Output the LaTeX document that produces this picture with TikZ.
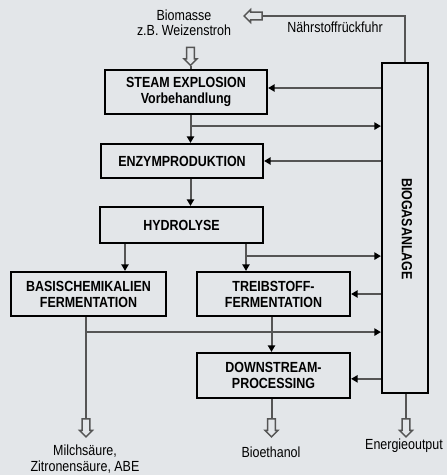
\documentclass[tikz,border=0pt]{standalone}
\usepackage{fontspec}
\setmainfont{Liberation Sans}[FakeStretch=0.85]
\usetikzlibrary{arrows.meta,shapes.arrows,calc}
\definecolor{bg}{HTML}{E3E6E9}
\definecolor{ln}{HTML}{555555}

\begin{document}
\begin{tikzpicture}[x=0.75pt,y=-0.75pt,
    box/.style={draw,line width=1.6pt,align=center,inner sep=1pt,font=\fontsize{11}{12}\selectfont\bfseries},
    lbl/.style={align=center,inner sep=0pt,font=\fontsize{11}{11.5}\selectfont},
    flow/.style={draw=ln,line width=1.5pt},
    arr/.style={flow,-{Triangle[length=5pt,width=5.5pt,color=black]}},
    hollow/.style={single arrow,draw=ln,fill=bg,line width=1.1pt,inner sep=2.3pt,
        minimum height=13.5pt,minimum width=9.5pt,single arrow head extend=2pt}]
            \fill[bg] (0,0) rectangle (447,475);
            \node[box,minimum width=121.5pt,minimum height=33pt] (steam) at (186,92) {STEAM EXPLOSION\\Vorbehandlung};
            \node[box,minimum width=121.5pt,minimum height=25.5pt] (enzym) at (182,161) {ENZYMPRODUKTION};
            \node[box,minimum width=122.25pt,minimum height=27pt] (hydro) at (181.5,225) {HYDROLYSE};
            \node[box,minimum width=116.25pt,minimum height=33pt] (basis) at (88.5,294) {BASISCHEMIKALIEN\\FERMENTATION};
            \node[box,minimum width=114.75pt,minimum height=33pt] (treib) at (273.5,294) {TREIBSTOFF-\\FERMENTATION};
            \node[box,minimum width=114.75pt,minimum height=33.75pt] (down) at (273.5,375.5) {DOWNSTREAM-\\PROCESSING};
            \node[box,minimum width=34.5pt,minimum height=247.5pt] (biogas) at (405,228) {};
            \node[rotate=-90,font=\fontsize{11}{12}\selectfont\bfseries] (biogaslbl) at (407,229) {BIOGASANLAGE};
            \node[lbl] (bio) at (184,23) {Biomasse\\z.B. Weizenstroh};
            \node[lbl] (nfr) at (335,27) {Nährstoffrückfuhr};
            \node[hollow,rotate=-90] (inbio) at (190.5,54.5) {};
            \node[hollow,rotate=180] (back) at (255,16) {};
            \node[hollow,rotate=-90] (outmilch) at (86,426) {};
            \node[hollow,rotate=-90] (outeth) at (271.5,426) {};
            \node[hollow,rotate=-90] (outenergy) at (406,426) {};
            \node[lbl] (milch) at (85,459) {Milchsäure,\\Zitronensäure, ABE};
            \node[lbl] (eth) at (271,452) {Bioethanol};
            \node[lbl] (energy) at (404,446) {Energieoutput};
            \coordinate (b1) at ($(steam.south -| inbio)+(0,11)$);
            \coordinate (hb) at ($(hydro.south)+(-56.5,0)$);
            \coordinate (ht) at ($(hydro.south)+(64.5,0)$);
            \coordinate (b2) at ($(ht)+(0,12)$);
            \coordinate (b3) at ($(basis.south -| outmilch)+(0,15)$);
            \coordinate (s1) at ([yshift=3pt]steam.east);
            \coordinate (d1) at ([yshift=-2.5pt]down.east);
            \draw[flow] (inbio.tip) -- (inbio.tip |- steam.north);
            \draw[flow] (biogas.north) |- (back.tail);
            \draw[arr] (s1 -| biogas.west) -- (s1);
            \draw[arr] (steam.south -| inbio) -- (enzym.north -| inbio);
            \draw[arr] (b1) -- (b1 -| biogas.west);
            \draw[arr] (biogas.west |- enzym.east) -- (enzym.east);
            \draw[arr] (enzym.south -| inbio) -- (hydro.north -| inbio);
            \draw[arr] (hb) -- (hb |- basis.north);
            \draw[arr] (ht) -- (ht |- treib.north);
            \draw[arr] (b2) -- (b2 -| biogas.west);
            \draw[arr] (biogas.west |- treib.east) -- (treib.east);
            \draw[flow] (basis.south -| outmilch) -- (outmilch.tail);
            \draw[arr] (b3) -- (b3 -| biogas.west);
            \draw[arr] (treib.south -| outeth) -- (down.north -| outeth);
            \draw[arr] (d1 -| biogas.west) -- (d1);
            \draw[flow] (down.south -| outeth) -- (outeth.tail);
            \draw[flow] (biogas.south -| outenergy) -- (outenergy.tail);
        \end{tikzpicture}
\end{document}
